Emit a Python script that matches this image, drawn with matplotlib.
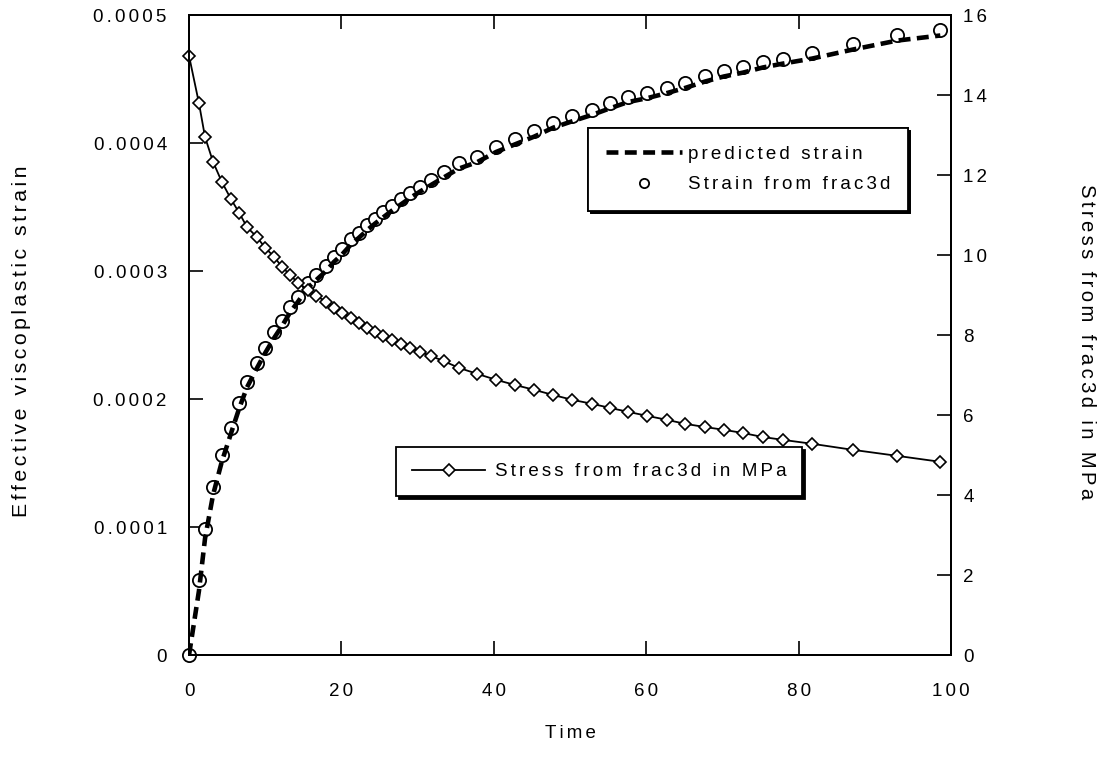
import numpy as np
import matplotlib.pyplot as plt

plt.rcParams['font.family'] = ['Liberation Sans', 'DejaVu Sans']

# time points shared by the frac3d results
time = [0, 1.3, 2.1, 3.15, 4.3, 5.5, 6.6, 7.6, 8.9, 10.0, 11.2, 12.2, 13.3, 14.3,
        15.6, 16.7, 18.0, 19.0, 20.1, 21.3, 22.3, 23.4, 24.4, 25.5, 26.6, 27.8,
        29.0, 30.3, 31.7, 33.4, 35.4, 37.8, 40.3, 42.8, 45.3, 47.8, 50.3, 52.9,
        55.2, 57.6, 60.1, 62.7, 65.1, 67.7, 70.2, 72.7, 75.3, 77.9, 81.8, 87.1,
        92.9, 98.6]

strain_frac3d = [0, 5.86e-5, 9.84e-5, 1.31e-4, 1.56e-4, 1.77e-4, 1.97e-4, 2.13e-4,
                 2.28e-4, 2.40e-4, 2.52e-4, 2.61e-4, 2.72e-4, 2.80e-4, 2.91e-4,
                 2.97e-4, 3.04e-4, 3.11e-4, 3.17e-4, 3.25e-4, 3.30e-4, 3.36e-4,
                 3.41e-4, 3.46e-4, 3.51e-4, 3.56e-4, 3.61e-4, 3.66e-4, 3.71e-4,
                 3.77e-4, 3.84e-4, 3.89e-4, 3.97e-4, 4.03e-4, 4.09e-4, 4.16e-4,
                 4.21e-4, 4.26e-4, 4.31e-4, 4.36e-4, 4.39e-4, 4.43e-4, 4.47e-4,
                 4.52e-4, 4.56e-4, 4.59e-4, 4.63e-4, 4.66e-4, 4.70e-4, 4.77e-4,
                 4.84e-4, 4.88e-4]

strain_predicted = [0, 5.0e-5, 9.1e-5, 1.25e-4, 1.51e-4, 1.73e-4, 1.93e-4, 2.09e-4,
                    2.24e-4, 2.36e-4, 2.48e-4, 2.57e-4, 2.68e-4, 2.76e-4, 2.87e-4,
                    2.93e-4, 3.00e-4, 3.07e-4, 3.13e-4, 3.21e-4, 3.26e-4, 3.32e-4,
                    3.37e-4, 3.42e-4, 3.47e-4, 3.52e-4, 3.57e-4, 3.62e-4, 3.67e-4,
                    3.73e-4, 3.80e-4, 3.85e-4, 3.93e-4, 3.99e-4, 4.05e-4, 4.12e-4,
                    4.17e-4, 4.22e-4, 4.27e-4, 4.32e-4, 4.35e-4, 4.39e-4, 4.43e-4,
                    4.48e-4, 4.52e-4, 4.55e-4, 4.59e-4, 4.62e-4, 4.66e-4, 4.73e-4,
                    4.80e-4, 4.84e-4]

stress_frac3d = [14.98, 13.8, 12.95, 12.33, 11.83, 11.4, 11.05, 10.7, 10.45, 10.18,
                 9.95, 9.7, 9.5, 9.3, 9.13, 8.98, 8.83, 8.68, 8.55, 8.43, 8.3, 8.18,
                 8.08, 7.98, 7.88, 7.78, 7.68, 7.58, 7.48, 7.35, 7.18, 7.03, 6.88,
                 6.75, 6.63, 6.5, 6.38, 6.28, 6.18, 6.08, 5.98, 5.88, 5.78, 5.7,
                 5.63, 5.55, 5.45, 5.38, 5.28, 5.13, 4.98, 4.83]

x_ticks = [0, 20, 40, 60, 80, 100]
left_ticks = [0, 0.0001, 0.0002, 0.0003, 0.0004, 0.0005]
left_labels = ['0', '0.0001', '0.0002', '0.0003', '0.0004', '0.0005']
right_ticks = [0, 2, 4, 6, 8, 10, 12, 14, 16]


def spaced(s, sp='\u2006'):
    # old plotting package used wide letter spacing
    return (sp + ' ' + sp).join(sp.join(w) for w in s.split(' '))


fs = 13.5
fig = plt.figure(figsize=(11.08, 7.66), dpi=100)
ax = fig.add_axes([0.1706, 0.1449, 0.6877, 0.8355])
ax2 = ax.twinx()

ln1, = ax.plot(time, strain_predicted, color='k', lw=3.3, dashes=(2.6, 1.4),
               label=spaced('predicted strain'), zorder=3)
pts, = ax.plot(time, strain_frac3d, ls='none', marker='o', ms=9.5, mfc='white',
               mec='k', mew=1.3, label=spaced('Strain from frac3d'), zorder=2,
               clip_on=False)
ln2, = ax2.plot(time, stress_frac3d, color='k', lw=1.3, marker='D', ms=6.5,
                mfc='white', mec='k', mew=1.2, label=spaced('Stress from frac3d in MPa'),
                clip_on=False)

ax.set_xlim(0, 100)
ax.set_ylim(0, 0.0005)
ax2.set_ylim(0, 16)
ax.set_xticks(x_ticks)
ax.set_xticklabels([spaced(str(t)) for t in x_ticks])
ax.set_yticks(left_ticks)
ax.set_yticklabels([spaced(t) for t in left_labels])
ax2.set_yticks(right_ticks)
ax2.set_yticklabels([spaced(str(t)) for t in right_ticks])

ax.tick_params(axis='x', direction='in', length=10, width=1.2, top=True,
               labelsize=fs, pad=20)
ax.tick_params(axis='y', direction='in', length=10, width=1.2, labelsize=fs, pad=16)
ax2.tick_params(axis='y', direction='in', length=10, width=1.2, labelsize=fs, pad=9)
for a in (ax, ax2):
    for s in a.spines.values():
        s.set_linewidth(1.4)

ax.set_xlabel(spaced('Time'), fontsize=fs)
ax.xaxis.set_label_coords(0.5, -0.11)
ax.set_ylabel(spaced('Effective viscoplastic strain'), fontsize=15.3)
ax.yaxis.set_label_coords(-0.208, 0.49)
ax2.set_ylabel(spaced('Stress from frac3d in MPa'), fontsize=14.6, rotation=-90,
               va='center')
ax2.yaxis.set_label_coords(1.178, 0.49)

shadow = {'color': 'k', 'alpha': 1}
leg1 = ax.legend(handles=[ln1, pts], loc='upper left', bbox_to_anchor=(0.524, 0.823),
                 borderaxespad=0, fontsize=fs, frameon=True, fancybox=False,
                 shadow=shadow, edgecolor='k', handlelength=4.1, handletextpad=0.3,
                 borderpad=0.92, labelspacing=0.72, markerscale=0.7)
leg1.get_frame().set_linewidth(1.3)
ax.add_artist(leg1)
leg2 = ax2.legend(handles=[ln2], loc='upper left', bbox_to_anchor=(0.272, 0.325),
                  borderaxespad=0, fontsize=fs, frameon=True, fancybox=False,
                  shadow=shadow, edgecolor='k', handlelength=3.9, handletextpad=0.5,
                  borderpad=0.85)
leg2.get_frame().set_linewidth(1.3)

fig.savefig('out.png', dpi=100)
